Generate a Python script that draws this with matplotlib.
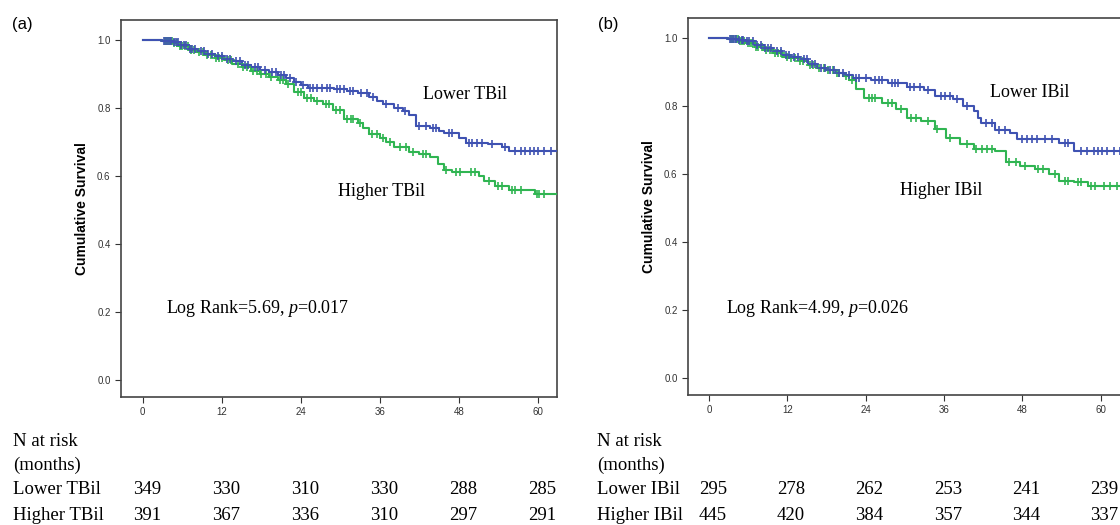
import numpy as np
import matplotlib
matplotlib.use("Agg")
import matplotlib.pyplot as plt
import matplotlib.transforms as mtransforms

plt.rcParams["mathtext.fontset"] = "custom"
plt.rcParams["mathtext.it"] = "Liberation Serif:italic"
plt.rcParams["mathtext.rm"] = "Liberation Serif"

# ---- data ----
months = [0, 12, 24, 36, 48, 60]

# panel (a): TBil
a_low_t = [0, 3.0, 4.5, 5.5, 7.0, 8.2, 9.5, 10.9, 12.3, 13.6, 15.0, 16.4, 17.8, 19.1, 20.5, 21.8,
           23.0, 24.0, 25.1, 29.0, 31.0, 32.7, 34.4, 35.5, 36.5, 38.2, 39.5, 40.4, 41.5, 43.6,
           45.0, 45.8, 48.0, 49.1, 52.4, 54.5, 55.6, 63.5]
a_low_s = [1.0, 0.997, 0.993, 0.985, 0.975, 0.968, 0.960, 0.953, 0.945, 0.938, 0.928, 0.920, 0.912,
           0.905, 0.896, 0.889, 0.878, 0.868, 0.860, 0.855, 0.850, 0.845, 0.833, 0.822, 0.812, 0.801,
           0.790, 0.779, 0.747, 0.742, 0.733, 0.727, 0.711, 0.698, 0.694, 0.686, 0.673, 0.673]
a_low_cens = [3.2, 3.5, 3.8, 4.1, 4.3, 4.7, 5.0, 5.3, 5.8, 6.2, 6.5, 7.2, 7.5, 8.0, 8.8, 9.3, 9.9,
              10.5, 11.5, 12.0, 12.8, 13.2, 14.2, 14.8, 15.5, 16.0, 17.0, 17.5, 18.5, 19.6, 20.2,
              21.0, 21.5, 22.3, 23.3, 24.4, 25.4, 25.8, 26.5, 27.2, 28.0, 28.5, 29.5, 30.0, 30.5,
              31.5, 32.0, 33.2, 34.0, 35.0, 37.0, 38.8, 39.8, 42.0, 43.0, 44.0, 44.6, 46.5, 47.0,
              49.5, 50.0, 50.8, 51.5, 53.0, 55.0, 56.5, 57.5, 58.0, 58.8, 59.4, 60.0, 61.0, 62.0]

a_high_t = [0, 3.0, 4.5, 5.5, 7.0, 8.2, 9.5, 10.9, 12.3, 13.6, 15.0, 16.4, 17.8, 19.1, 20.5, 21.8,
            22.9, 24.5, 26.0, 27.3, 28.9, 30.5, 32.7, 33.5, 34.4, 36.0, 37.0, 38.2, 40.4, 42.0,
            43.6, 44.8, 45.8, 46.9, 51.0, 51.8, 53.5, 55.6, 59.5, 63.5]
a_high_s = [1.0, 0.997, 0.990, 0.982, 0.972, 0.964, 0.955, 0.947, 0.940, 0.930, 0.920, 0.910, 0.900,
            0.891, 0.882, 0.870, 0.847, 0.830, 0.822, 0.813, 0.794, 0.769, 0.755, 0.740, 0.725,
            0.711, 0.700, 0.686, 0.672, 0.665, 0.657, 0.635, 0.618, 0.611, 0.600, 0.584, 0.570,
            0.560, 0.547, 0.547]
a_high_cens = [3.4, 3.7, 4.0, 4.4, 4.8, 5.2, 5.6, 6.0, 6.4, 6.8, 7.3, 7.8, 8.6, 9.2, 9.8, 10.3,
               11.2, 11.6, 12.0, 13.0, 13.4, 14.5, 15.2, 15.8, 16.8, 17.3, 18.0, 18.7, 19.5,
               20.8, 21.3, 22.0, 23.5, 24.0, 25.0, 25.6, 26.5, 27.8, 28.3, 29.3, 30.0, 31.0,
               31.6, 32.0, 33.0, 34.8, 35.5, 36.5, 37.5, 39.0, 40.0, 41.0, 42.5, 43.0, 46.0,
               47.5, 48.2, 49.8, 50.5, 52.5, 54.0, 54.5, 56.0, 56.5, 57.5, 59.8, 60.2, 61.0]

# panel (b): IBil
b_low_t = [0, 3.0, 4.5, 5.7, 7.0, 8.5, 9.8, 11.2, 12.5, 13.9, 15.2, 16.6, 18.0, 19.4, 20.8, 22.1,
           24.8, 27.5, 30.3, 33.0, 34.6, 37.4, 39.0, 40.6, 41.2, 41.7, 43.9, 46.1, 47.2, 53.7,
           55.9, 64.0]
b_low_s = [1.0, 0.997, 0.993, 0.990, 0.980, 0.971, 0.962, 0.951, 0.945, 0.937, 0.925, 0.912, 0.905,
           0.898, 0.890, 0.883, 0.878, 0.868, 0.856, 0.846, 0.829, 0.821, 0.800, 0.785, 0.765,
           0.749, 0.729, 0.722, 0.702, 0.690, 0.668, 0.668]
b_low_cens = [3.3, 3.6, 3.9, 4.2, 4.6, 5.0, 5.2, 5.8, 6.2, 6.8, 7.3, 8.0, 8.6, 9.0, 9.5, 10.5,
              11.0, 11.8, 12.3, 13.0, 13.6, 14.5, 15.0, 15.8, 16.3, 17.2, 17.8, 18.6, 19.2,
              20.0, 20.5, 21.5, 22.5, 23.0, 24.0, 25.5, 26.0, 26.5, 28.0, 28.5, 29.0, 30.8,
              31.5, 32.3, 33.5, 35.5, 36.2, 37.0, 38.0, 39.5, 42.5, 43.3, 44.5, 45.3, 48.0,
              48.8, 49.5, 50.3, 51.5, 52.5, 54.5, 55.0, 57.0, 58.0, 59.0, 59.6, 60.3, 61.0,
              62.0, 63.0]

b_high_t = [0, 3.0, 4.5, 5.7, 7.0, 8.5, 9.8, 11.2, 12.5, 13.9, 15.2, 16.6, 18.0, 19.4, 20.5, 21.5,
            22.6, 23.7, 26.5, 28.6, 30.3, 32.5, 34.6, 36.3, 38.5, 40.6, 43.9, 45.5, 47.7, 49.9,
            52.1, 53.7, 55.9, 58.1, 64.0]
b_high_s = [1.0, 0.997, 0.990, 0.985, 0.975, 0.966, 0.955, 0.945, 0.940, 0.932, 0.922, 0.912, 0.905,
            0.898, 0.888, 0.878, 0.849, 0.824, 0.810, 0.790, 0.766, 0.756, 0.732, 0.707, 0.688,
            0.673, 0.668, 0.634, 0.624, 0.615, 0.600, 0.580, 0.576, 0.566, 0.566]
b_high_cens = [3.4, 3.7, 4.1, 4.4, 4.8, 5.1, 5.4, 6.0, 6.3, 6.6, 7.2, 7.6, 8.2, 8.8, 9.3, 10.2,
               10.6, 11.0, 12.0, 12.6, 13.2, 14.0, 14.4, 15.5, 16.0, 16.8, 17.6, 18.2, 19.0,
               19.6, 20.0, 21.0, 22.0, 24.5, 25.0, 25.5, 27.5, 28.0, 29.5, 31.0, 31.8, 33.5,
               35.0, 37.0, 39.5, 41.0, 41.8, 42.6, 43.3, 46.0, 47.0, 48.5, 50.5, 51.2, 53.0,
               54.5, 55.0, 56.5, 57.0, 58.6, 59.2, 60.5, 61.5, 62.5]

risk_a = {"Lower TBil": [349, 330, 310, 330, 288, 285],
          "Higher TBil": [391, 367, 336, 310, 297, 291]}
risk_b = {"Lower IBil": [295, 278, 262, 253, 241, 239],
          "Higher IBil": [445, 420, 384, 357, 344, 337]}

BLUE = "#3f52b2"
GREEN = "#30b552"
SERIF = "Liberation Serif"
SANS = "Liberation Sans"

W, H = 1120, 525


def km(ax, t, s, cens, color):
    t = np.asarray(t)
    s = np.asarray(s)
    ax.step(t, s, where="post", color=color, lw=1.5, zorder=3)
    c = np.asarray(cens)
    idx = np.searchsorted(t, c, side="right") - 1
    ax.plot(c, s[idx], ls="none", marker="+", ms=5.5, mew=1.2, color=color, zorder=4)


def panel(ax, low, high, labels, logrank, xlim):
    km(ax, *high, GREEN)
    km(ax, *low, BLUE)
    ax.set_xlim(*xlim)
    ax.set_ylim(-0.05, 1.059)
    ax.set_xticks(months)
    ax.set_yticks([0.0, 0.2, 0.4, 0.6, 0.8, 1.0])
    ax.set_yticklabels(["0.0", "0.2", "0.4", "0.6", "0.8", "1.0"])
    ax.tick_params(direction="out", length=4, width=0.8, labelsize=7, colors="#333333",
                   labelcolor="#333333")
    for lab in ax.get_xticklabels() + ax.get_yticklabels():
        lab.set_fontfamily(SANS)
    for sp in ax.spines.values():
        sp.set_color("#444444")
        sp.set_linewidth(1.2)
    ax.set_ylabel("Cumulative Survival", fontfamily=SANS, fontweight="bold", fontsize=10,
                  labelpad=6)
    for x, y, txt in labels + [logrank]:
        ax.text(x, y, txt, fontfamily=SERIF, fontsize=13, va="center", ha="left")


fig = plt.figure(figsize=(W / 100, H / 100), dpi=100)

ax_a = fig.add_axes([121 / W, 128 / H, 436 / W, 377 / H])
ax_b = fig.add_axes([688 / W, 130 / H, 436 / W, 377 / H])

panel(ax_a, (a_low_t, a_low_s, a_low_cens), (a_high_t, a_high_s, a_high_cens),
      [(42.5, 0.84, "Lower TBil"), (29.7, 0.555, "Higher TBil")],
      (3.5, 0.209, r"Log Rank=5.69, $\it{p}$=0.017"), (-3.3, 62.9))
panel(ax_b, (b_low_t, b_low_s, b_low_cens), (b_high_t, b_high_s, b_high_cens),
      [(43.1, 0.841, "Lower IBil"), (29.3, 0.551, "Higher IBil")],
      (2.6, 0.205, r"Log Rank=4.99, $\it{p}$=0.026"), (-3.2, 63.6))

fig.text(12 / W, 1 - 25 / H, "(a)", fontfamily=SANS, fontsize=12, va="center", ha="left")
fig.text(598 / W, 1 - 25 / H, "(b)", fontfamily=SANS, fontsize=12, va="center", ha="left")

# N at risk tables
row_y = [441, 465, 490, 515]
for ax, x0, risk in [(ax_a, 13, risk_a), (ax_b, 597, risk_b)]:
    fig.text(x0 / W, 1 - row_y[0] / H, "N at risk", fontfamily=SERIF, fontsize=13.5, va="center")
    fig.text(x0 / W, 1 - row_y[1] / H, "(months)", fontfamily=SERIF, fontsize=13.5, va="center")
    trans = mtransforms.blended_transform_factory(ax.transData, fig.transFigure)
    for (name, vals), y in zip(risk.items(), row_y[2:]):
        fig.text(x0 / W, 1 - y / H, name, fontfamily=SERIF, fontsize=13.5, va="center")
        for m, v in zip(months, vals):
            fig.text(m + 0.6, 1 - y / H, str(v), fontfamily=SERIF, fontsize=13.5, va="center",
                     ha="center", transform=trans)

fig.savefig("out.png", dpi=100)
